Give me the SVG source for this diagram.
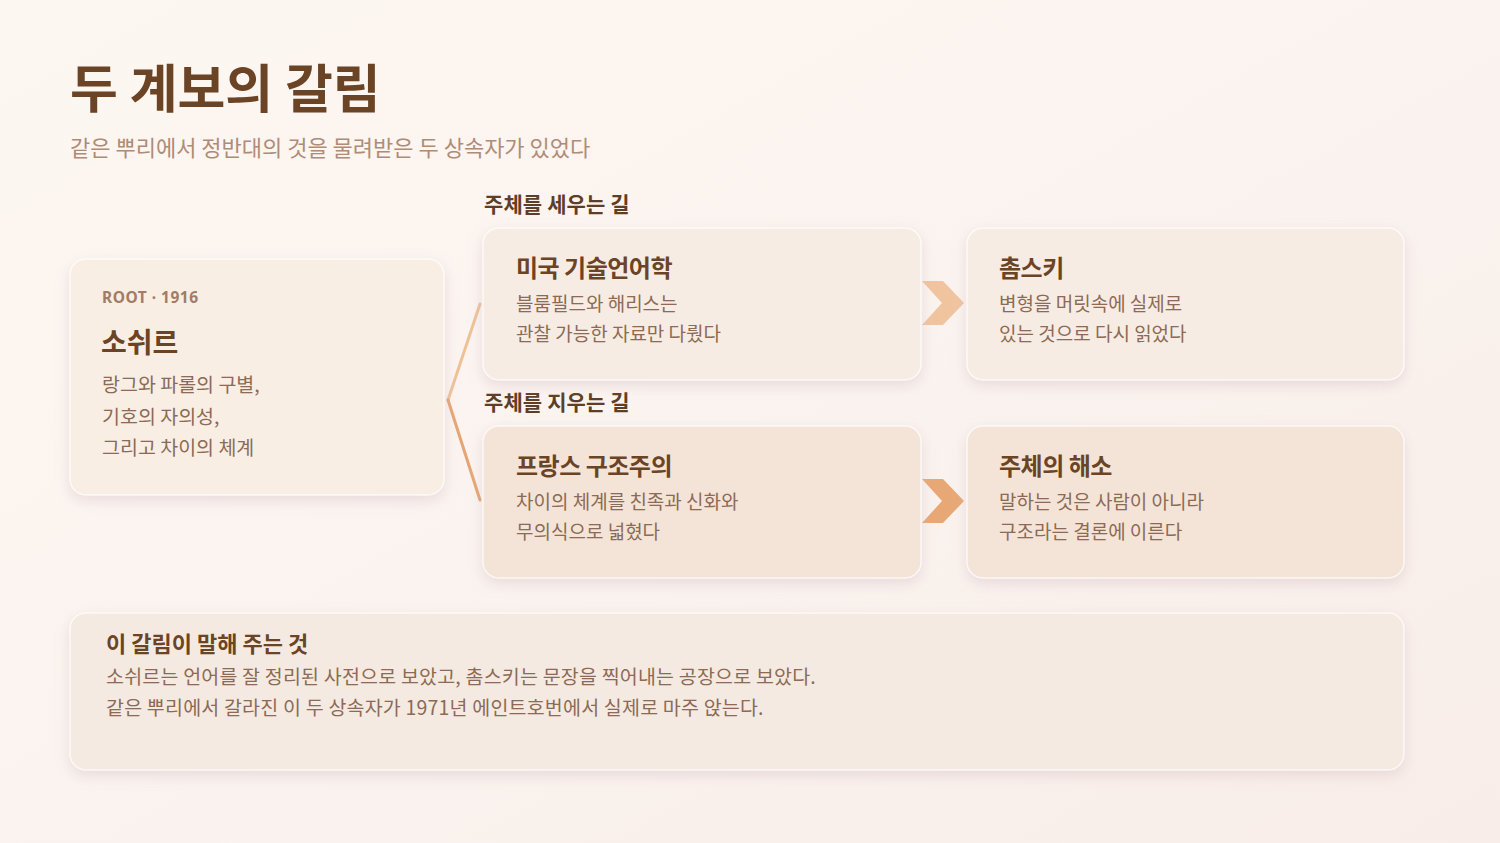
<svg xmlns="http://www.w3.org/2000/svg" width="1500" height="843" viewBox="0 0 1500 843">
<defs>
<linearGradient id="bg" x1="0" y1="0" x2="1" y2="1">
<stop offset="0" stop-color="#FDF7F2"/>
<stop offset="0.6" stop-color="#FAF2EE"/>
<stop offset="1" stop-color="#F8EDE8"/>
</linearGradient>
<filter id="sh" x="-10%" y="-20%" width="120%" height="150%">
<feDropShadow dx="0" dy="5" stdDeviation="7" flood-color="#C9AEB8" flood-opacity="0.35"/>
</filter>
<style>
.card{stroke:#FFFFFF;stroke-opacity:0.7;stroke-width:1.5;filter:url(#sh)}
.c1{fill:#F8EEE4}
.c2{fill:#F7ECE3}
.c3{fill:#F4E4D7}
.c4{fill:#F5EAE1}
text{font-family:"Noto Sans CJK KR","Noto Sans",sans-serif}
.title{font-size:52px;font-weight:700;fill:#6B4426;letter-spacing:0px}
.sub{font-size:22px;fill:#B08C76}
.lane{font-size:21px;font-weight:700;fill:#5E3E27;letter-spacing:0.1px}
.tag{font-family:"Noto Sans",sans-serif;font-size:15.5px;font-weight:700;fill:#A27C64;letter-spacing:0.5px}
.h{font-size:24px;font-weight:700;fill:#6B4426;letter-spacing:-0.5px}
.hr{font-size:28px;font-weight:700;fill:#6B4426;letter-spacing:0px}
.b{font-size:19px;fill:#8C6A55;letter-spacing:0px}
.br{font-size:19.5px;fill:#8C6A55;letter-spacing:0px}
.bh{font-size:22px;font-weight:700;fill:#6B4426;letter-spacing:0px}
.bb{font-size:19.5px;fill:#8C6A55;letter-spacing:0.2px}
</style>
</defs>
<rect x="0" y="0" width="1500" height="843" fill="url(#bg)"/>

<g id="header">
<text class="title" x="70" y="108">두 계보의 갈림</text>
<text class="sub" x="70" y="156">같은 뿌리에서 정반대의 것을 물려받은 두 상속자가 있었다</text>
</g>

<g id="lane-labels">
<text class="lane" x="484" y="212">주체를 세우는 길</text>
<text class="lane" x="484" y="410">주체를 지우는 길</text>
</g>

<g id="connectors">
<polyline points="480,304 448,400" fill="none" stroke="#EEC199" stroke-width="3" stroke-linecap="round"/>
<polyline points="448,400 480,500" fill="none" stroke="#E6A574" stroke-width="3" stroke-linecap="round"/>
<polygon points="922,281 943,281 964,303 943,325 922,325 942,303" fill="#F0C49E"/>
<polygon points="922,479 943,479 964,501 943,523 922,523 942,501" fill="#E8A876"/>
</g>

<g id="root-saussure">
<rect class="card c1" x="70" y="259" width="374" height="236" rx="16"/>
<text class="tag" x="102" y="303">ROOT · 1916</text>
<text class="hr" x="101" y="353">소쉬르</text>
<text class="br" x="102" y="392">랑그와 파롤의 구별,</text>
<text class="br" x="102" y="424">기호의 자의성,</text>
<text class="br" x="102" y="455">그리고 차이의 체계</text>
</g>

<g id="american-descriptivism">
<rect class="card c2" x="483" y="228" width="438" height="152" rx="16"/>
<text class="h" x="516" y="277">미국 기술언어학</text>
<text class="b" x="516" y="311">블룸필드와 해리스는</text>
<text class="b" x="516" y="341">관찰 가능한 자료만 다뤘다</text>
</g>

<g id="chomsky">
<rect class="card c2" x="967" y="228" width="437" height="152" rx="16"/>
<text class="h" x="999" y="277">촘스키</text>
<text class="b" x="999" y="311">변형을 머릿속에 실제로</text>
<text class="b" x="999" y="341">있는 것으로 다시 읽었다</text>
</g>

<g id="french-structuralism">
<rect class="card c3" x="483" y="426" width="438" height="152" rx="16"/>
<text class="h" x="516" y="475">프랑스 구조주의</text>
<text class="b" x="516" y="509">차이의 체계를 친족과 신화와</text>
<text class="b" x="516" y="539">무의식으로 넓혔다</text>
</g>

<g id="dissolution-of-subject">
<rect class="card c3" x="967" y="426" width="437" height="152" rx="16"/>
<text class="h" x="999" y="475">주체의 해소</text>
<text class="b" x="999" y="509">말하는 것은 사람이 아니라</text>
<text class="b" x="999" y="539">구조라는 결론에 이른다</text>
</g>

<g id="takeaway">
<rect class="card c4" x="70" y="613" width="1334" height="157" rx="16"/>
<text class="bh" x="106" y="652">이 갈림이 말해 주는 것</text>
<text class="bb" x="106" y="684">소쉬르는 언어를 잘 정리된 사전으로 보았고, 촘스키는 문장을 찍어내는 공장으로 보았다.</text>
<text class="bb" x="106" y="715">같은 뿌리에서 갈라진 이 두 상속자가 1971년 에인트호번에서 실제로 마주 앉는다.</text>
</g>
</svg>
